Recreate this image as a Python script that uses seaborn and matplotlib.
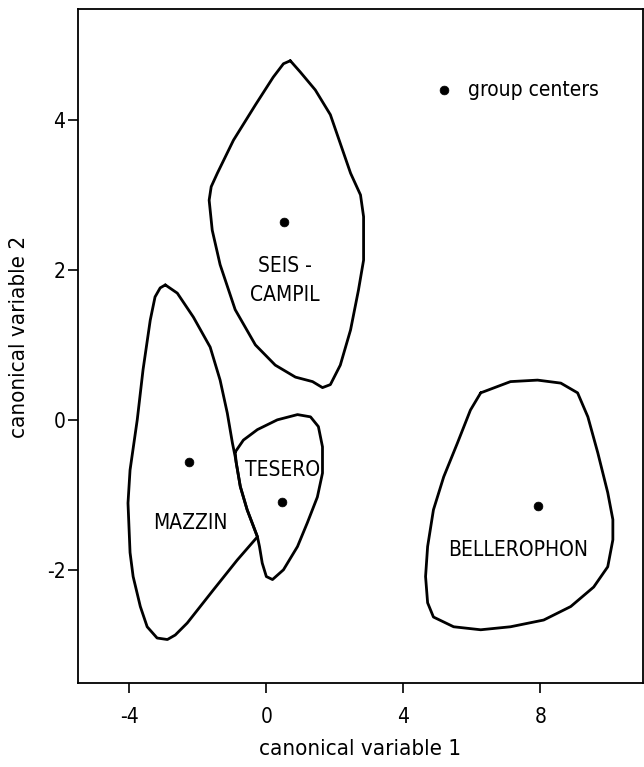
import matplotlib
matplotlib.use("Agg")
import matplotlib.pyplot as plt
import seaborn as sns
import pandas as pd

# ---- data ----
seis_x = [0.70, 0.99, 1.43, 1.87, 2.46, 2.75, 2.84, 2.84, 2.69, 2.46, 2.16, 1.87, 1.64, 1.35,
          0.85, 0.26, -0.32, -0.91, -1.35, -1.58, -1.67, -1.61, -1.43, -0.96, -0.32, 0.20, 0.50, 0.70]
seis_y = [4.79, 4.64, 4.40, 4.07, 3.29, 3.00, 2.71, 2.13, 1.73, 1.20, 0.73, 0.47, 0.43, 0.51,
          0.57, 0.73, 1.00, 1.47, 2.07, 2.53, 2.93, 3.11, 3.29, 3.73, 4.20, 4.57, 4.75, 4.79]

mazzin_x = [-2.95, -2.60, -2.13, -1.64, -1.35, -1.14, -0.99, -0.91, -0.76, -0.56, -0.26, -0.85,
            -1.55, -2.31, -2.66, -2.89, -3.19, -3.48, -3.68, -3.89, -3.98, -4.04, -3.98, -3.77,
            -3.60, -3.39, -3.25, -3.10, -2.95]
mazzin_y = [1.80, 1.69, 1.37, 0.97, 0.53, 0.09, -0.31, -0.49, -0.89, -1.20, -1.56, -1.87,
            -2.27, -2.71, -2.87, -2.93, -2.91, -2.76, -2.49, -2.09, -1.77, -1.11, -0.67, 0.00,
            0.67, 1.33, 1.64, 1.76, 1.80]

tesero_x = [-0.91, -0.67, -0.26, 0.32, 0.91, 1.29, 1.52, 1.64, 1.64, 1.49, 1.20, 0.91, 0.50,
            0.18, 0.00, -0.12, -0.20, -0.26, -0.56, -0.76, -0.88, -0.91]
tesero_y = [-0.43, -0.27, -0.13, 0.00, 0.07, 0.04, -0.09, -0.36, -0.71, -1.03, -1.37, -1.69, -2.00,
            -2.13, -2.09, -1.91, -1.69, -1.56, -1.20, -0.89, -0.57, -0.43]

beller_x = [6.26, 7.13, 7.92, 8.60, 9.09, 9.39, 9.68, 9.97, 10.12, 10.12, 9.97, 9.56, 8.89, 8.10,
            7.13, 6.26, 5.47, 4.88, 4.71, 4.65, 4.71, 4.88, 5.18, 5.58, 5.96, 6.26]
beller_y = [0.36, 0.51, 0.53, 0.49, 0.36, 0.04, -0.44, -0.97, -1.33, -1.60, -1.96, -2.23, -2.49,
            -2.67, -2.76, -2.80, -2.76, -2.63, -2.44, -2.09, -1.69, -1.20, -0.76, -0.31, 0.13, 0.36]

groups = ["SEIS - CAMPIL", "MAZZIN", "TESERO", "BELLEROPHON"]
center_x = [0.53, -2.25, 0.47, 7.92]
center_y = [2.64, -0.56, -1.09, -1.15]

label_text = ["SEIS -\nCAMPIL", "MAZZIN", "TESERO", "BELLEROPHON"]
label_x = [0.55, -2.22, 0.47, 7.34]
label_y = [1.86, -1.37, -0.67, -1.73]

legend_x = [5.2]
legend_y = [4.4]
legend_label = "group centers"

xticks = [-4, 0, 4, 8]
yticks = [-2, 0, 2, 4]
xlabel = "canonical variable 1"
ylabel = "canonical variable 2"

# ---- style ----
sns.set_theme(style="white")
plt.rcParams["font.family"] = ["DejaVu Sans"]
plt.rcParams["font.stretch"] = "condensed"
plt.rcParams["text.color"] = "black"
plt.rcParams["axes.labelcolor"] = "black"

FS = 15

fig = plt.figure(figsize=(6.44, 7.67), dpi=100)
ax = fig.add_axes([78 / 644, 1 - 683 / 767, (643 - 78) / 644, (683 - 9) / 767])

contours = [(seis_x, seis_y), (mazzin_x, mazzin_y), (tesero_x, tesero_y), (beller_x, beller_y)]
for cx, cy in contours:
    df = pd.DataFrame({"x": cx, "y": cy})
    sns.lineplot(data=df, x="x", y="y", sort=False, estimator=None, color="black",
                 linewidth=2.0, ax=ax)

cdf = pd.DataFrame({"x": center_x, "y": center_y, "g": groups})
sns.scatterplot(data=cdf, x="x", y="y", color="black", s=40, edgecolor="black", ax=ax, legend=False)

for t, x, y in zip(label_text, label_x, label_y):
    ax.text(x, y, t, ha="center", va="center", fontsize=FS, linespacing=1.6, color="black")

ldf = pd.DataFrame({"x": legend_x, "y": legend_y})
sns.scatterplot(data=ldf, x="x", y="y", color="black", s=40, edgecolor="black", ax=ax, legend=False)
ax.text(legend_x[0] + 0.7, legend_y[0], legend_label, ha="left", va="center", fontsize=FS,
        color="black")

ax.set_xlim(-5.5, 11.0)
ax.set_ylim(-3.51, 5.48)
ax.set_xticks(xticks)
ax.set_yticks(yticks)
ax.set_xticklabels([str(v) for v in xticks])
ax.set_yticklabels([str(v) for v in yticks])
ax.tick_params(axis="both", direction="out", length=7, width=1.2, color="black",
               labelsize=FS, labelcolor="black", bottom=True, left=True)
ax.tick_params(axis="x", pad=10)
ax.tick_params(axis="y", pad=2)
ax.set_xlabel(xlabel, fontsize=16, color="black")
ax.set_ylabel(ylabel, fontsize=16, color="black")
ax.xaxis.set_label_coords(0.5, -0.083)
ax.yaxis.set_label_coords(-0.087, 0.513)
for s in ax.spines.values():
    s.set_color("black")
    s.set_linewidth(1.3)
    s.set_visible(True)

fig.savefig("out.png", dpi=100)
